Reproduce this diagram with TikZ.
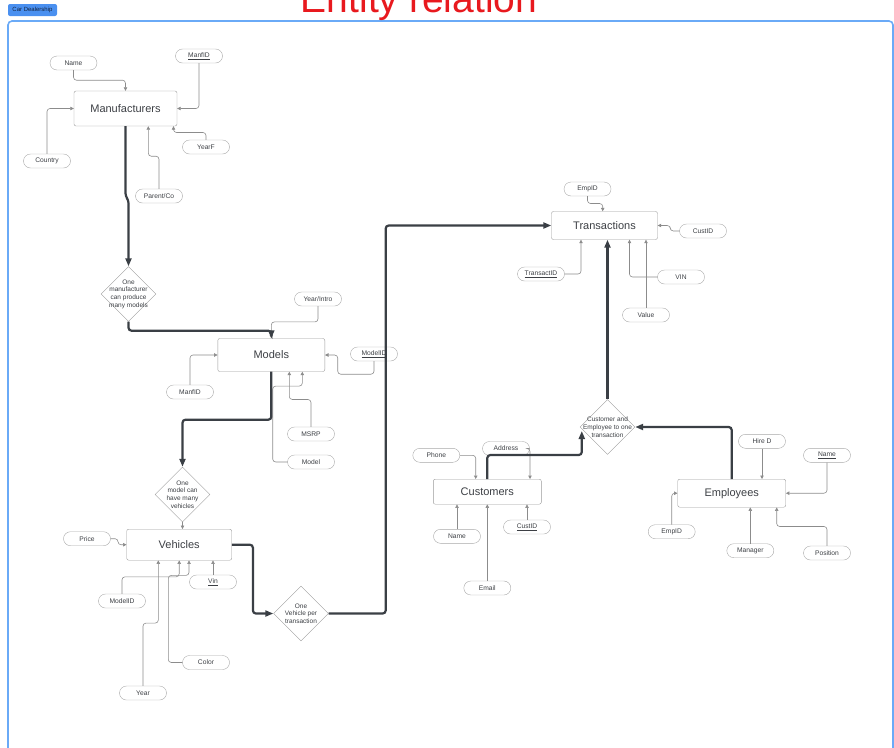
\documentclass[tikz,border=0pt]{standalone}
\usepackage{fontspec}
\setmainfont{Liberation Sans}
\usetikzlibrary{shapes.geometric,arrows.meta,calc}

\definecolor{ink}{HTML}{3C3F44}
\definecolor{entline}{HTML}{9A9A9A}
\definecolor{attline}{HTML}{A8A8A8}
\definecolor{linkgray}{HTML}{8C8C8C}
\definecolor{flowgray}{HTML}{3A3F45}
\definecolor{frameblue}{HTML}{6AAAF7}
\definecolor{tagblue}{HTML}{4A90F0}
\definecolor{tagink}{HTML}{14233F}
\definecolor{titlered}{HTML}{E8191E}

\tikzset{
  entity/.style={draw=entline, rounded corners=2, inner sep=0, text=ink,
    font=\fontsize{11}{13}\selectfont},
  attrib/.style={draw=attline, rounded corners=7, minimum width=47,
    minimum height=14, inner sep=0, text=ink, font=\fontsize{6.7}{8}\selectfont},
  relation/.style={diamond, draw=entline, aspect=1, minimum width=55,
    minimum height=55, inner sep=0},
  relnote/.style={align=center, text=ink, inner sep=0,
    font=\fontsize{6.5}{7.7}\selectfont},
  link/.style={draw=linkgray, line width=0.6pt, rounded corners=3,
    -{Triangle[length=3.5pt,width=3.5pt]}},
  flow/.style={draw=flowgray, line width=2.2pt, rounded corners=3,
    -{Triangle[length=8pt,width=6pt]}},
}

\begin{document}
\begin{tikzpicture}[x=1pt,y=-1pt]
\useasboundingbox (0,0) rectangle (894,747);
\clip (0,0) rectangle (894,747);

% frame and heading
\draw[frameblue, line width=1.6pt, rounded corners=4] (8,21) rectangle (893,780);
\node[fill=tagblue, rounded corners=2, minimum width=49, minimum height=12,
  inner sep=0, text=tagink, font=\fontsize{6}{7}\selectfont] (tag) at (32.5,10) {Car Dealership};
\node[anchor=base, text=titlered, inner sep=0, font=\fontsize{39}{40}\selectfont] (head) at (419,12) {Entity relation};

% Entities
\node[entity, minimum width=103, minimum height=35] (mf) at (125.5,108.5) {Manufacturers};
\node[entity, minimum width=106, minimum height=28] (tr) at (604.5,225.5) {Transactions};
\node[entity, minimum width=107, minimum height=33] (mo) at (271.3,355) {Models};
\node[entity, minimum width=105, minimum height=31] (ve) at (179.2,544.7) {Vehicles};
\node[entity, minimum width=108, minimum height=25] (cu) at (487.3,491.7) {Customers};
\node[entity, minimum width=108, minimum height=28] (em) at (731.7,493.2) {Employees};

% Relations
\node[relation, label={[relnote]center:One\\manufacturer\\can produce\\many models}] (d1) at (128.5,294) {};
\node[relation, label={[relnote]center:One\\model can\\have many\\vehicles}] (d2) at (182.5,494.5) {};
\node[relation, label={[relnote]center:One\\Vehicle per\\transaction}] (d3) at (301,613.5) {};
\node[relation, label={[relnote]center:Customer and\\Employee to one\\transaction}] (d4) at (607.5,427) {};

% Manufacturers attributes
\node[attrib] (mname) at (73.5,63) {Name};
\node[attrib] (mfid) at (199,56) {\underline{ManfID}};
\node[attrib] (mcountry) at (47,161) {Country};
\node[attrib] (myear) at (206,147) {YearF};
\node[attrib] (mparent) at (159,196) {Parent/Co};

\draw[link] (mname.south) -- ++(0,10) -| (mf.north);
\draw[link] (mfid.south) |- (mf.east);
\draw[link] (mcountry.north) |- (mf.west);
\draw[link] (myear.north) -- ++(0,-7.3) -| ($(mf.south east)+(-3.7,0)$);
\draw[link] (mparent.north) -- ++(0,-32.6) -| ($(mf.south)+(22.8,0)$);

% Transactions attributes
\node[attrib] (tempid) at (587.5,189) {EmpID};
\node[attrib] (tcust) at (703,231) {CustID};
\node[attrib] (ttid) at (541,274) {\underline{TransactID}};
\node[attrib] (tvin) at (681,277) {VIN};
\node[attrib] (tvalue) at (646,315) {Value};

\draw[link] (tempid.south) -- ++(0,7.3) -| ($(tr.north)+(-1.8,0)$);
\draw[link] (tcust.west) -- ++(-9,0) |- (tr.east);
\draw[link] (ttid.east) -| ($(tr.south)+(-23.5,0)$);
\draw[link] (tvin.west) -| ($(tr.south)+(25,0)$);
\draw[link] (tvalue.north) -- (tvalue.north |- tr.south);

% Models attributes
\node[attrib] (myi) at (318,299) {Year/Intro};
\node[attrib] (mmid) at (374,354) {\underline{ModelID}};
\node[attrib] (mmanf) at (190,392) {ManfID};
\node[attrib] (mmsrp) at (311,434) {MSRP};
\node[attrib] (mmodel) at (311,462) {Model};

\draw[link] (myi.south) -- ++(0,15.7) -| (mo.north);
\draw[link] (mmid.south) -- ++(0,13) -| ($(mo.east)+(12.7,0)$) -- (mo.east);
\draw[link] (mmanf.north) |- (mo.west);
\draw[link] (mmsrp.north) -- ++(0,-27.3) -| ($(mo.south)+(18,0)$);
\draw[link] (mmodel.west) -| ($(mo.south)+(1.4,14.4)$) -| ($(mo.south)+(31,0)$);

% Vehicles attributes
\node[attrib] (vprice) at (87,538.7) {Price};
\node[attrib] (vvin) at (213,582) {\underline{Vin}};
\node[attrib] (vmid) at (122,601) {ModelID};
\node[attrib] (vcolor) at (206,662.5) {Color};
\node[attrib] (vyear) at (143,693) {Year};

\draw[link] (vprice.east) -- ++(7.3,0) |- (ve.west);
\draw[link] (vvin.north) -- (vvin.north |- ve.south);
\draw[link] (vmid.north) -- ++(0,-17) -| (ve.south);
\draw[link] (vcolor.west) -| ($(ve.south)+(-10.9,15)$) -| ($(ve.south)+(9.8,0)$);
\draw[link] (vyear.north) -- ++(0,-62.7) -| ($(ve.south)+(-20.9,0)$);

% Customers attributes
\node[attrib] (cphone) at (436.3,455.3) {Phone};
\node[attrib] (caddr) at (506,448.5) {Address};
\node[attrib] (cname) at (457,536.3) {Name};
\node[attrib] (ccust) at (527,527) {\underline{CustID}};
\node[attrib] (cemail) at (487.3,588) {Email};

\draw[link] (cphone.east) -| ($(cu.north)+(-11.6,0)$);
\draw[link] (caddr.east) -| ($(cu.north)+(42.7,0)$);
\draw[link] (cname.north) -- (cname.north |- cu.south);
\draw[link] (ccust.north) -- (ccust.north |- cu.south);
\draw[link] (cemail.north) -- (cu.south);

% Employees attributes
\node[attrib] (ehire) at (762,441.3) {Hire D};
\node[attrib] (ename) at (827,455.3) {\underline{Name}};
\node[attrib] (eemp) at (671.7,531.7) {EmpID};
\node[attrib] (emgr) at (750.3,550.7) {Manager};
\node[attrib] (epos) at (827,553) {Position};

\draw[link] (ehire.south) -- (ehire.south |- em.north);
\draw[link] (ename.south) |- (em.east);
\draw[link] (eemp.north) |- (em.west);
\draw[link] (emgr.north) -- (emgr.north |- em.south);
\draw[link] (epos.north) -- ++(0,-19.3) -| ($(em.south)+(45,0)$);

% Relationship flow
\draw[flow] (mf.south) -- ++(0,70) -- ++(3,4) -- (d1.north);
\draw[flow] (d1.south) -- ++(0,9) -| (mo.north);
\draw[flow] (mo.south) -- ++(0,48) -| (d2.north);
\draw[link] (d2.south) -- (d2.south |- ve.north);
\draw[flow] (ve.east) -- ++(21,0) |- (d3.west);
\draw[flow] (d3.east) -- ++(57,0) |- (tr.west);
\draw[flow] (cu.north) -- ++(0,-24) -| ($(d4.west)+(2,4)$);
\draw[flow] (em.north) |- (d4.east);
\draw[flow] (d4.north) -- (d4.north |- tr.south);

\end{tikzpicture}
\end{document}
